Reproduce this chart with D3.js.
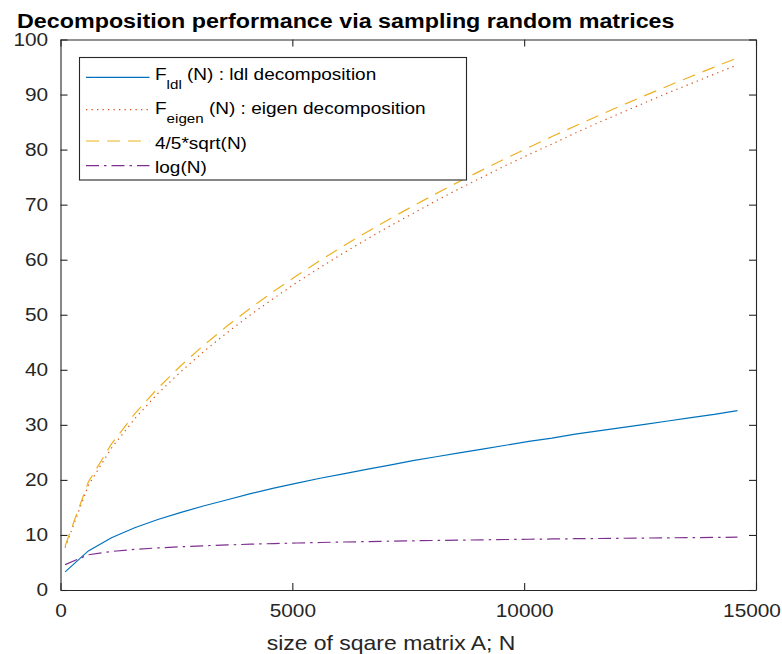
<!DOCTYPE html>
<html>
<head>
<meta charset="utf-8">
<script src="https://cdn.jsdelivr.net/npm/d3@7"></script>
<style>
  body { margin: 0; background: #fff; }
  text { font-family: "Liberation Sans", Arial, Helvetica, sans-serif; }
</style>
</head>
<body>
<div class="chart"></div>
<script>
// matrix sizes sampled
const sizeN = [100, 600, 1100, 1600, 2100, 2600, 3100, 3600, 4100, 4600,
  5100, 5600, 6100, 6600, 7100, 7600, 8100, 8600, 9100, 9600,
  10100, 10600, 11100, 11600, 12100, 12600, 13100, 13600, 14100, 14600];

const fLdl = [3.3, 7.1, 9.5, 11.3, 12.8, 14.1, 15.3, 16.4, 17.5, 18.5,
  19.4, 20.3, 21.1, 21.9, 22.7, 23.5, 24.2, 24.9, 25.6, 26.3,
  27.0, 27.6, 28.3, 28.9, 29.5, 30.1, 30.7, 31.3, 31.9, 32.6];

const fEigen = [7.7, 19.0, 25.8, 31.1, 35.7, 39.7, 43.4, 46.8, 50.0, 53.0,
  55.9, 58.6, 61.2, 63.7, 66.1, 68.4, 70.7, 72.9, 75.0, 77.1,
  79.1, 81.0, 83.0, 84.9, 86.7, 88.5, 90.3, 92.0, 93.7, 95.4];

const sqrtRef = [8.0, 19.6, 26.53, 32.0, 36.66, 40.79, 44.54, 48.0, 51.22, 54.26,
  57.13, 59.87, 62.48, 64.99, 67.41, 69.74, 72.0, 74.19, 76.32, 78.38,
  80.4, 82.37, 84.29, 86.16, 88.0, 89.8, 91.56, 93.29, 94.99, 96.67];

const logRef = [4.605, 6.397, 7.003, 7.378, 7.65, 7.863, 8.039, 8.189, 8.319, 8.434,
  8.537, 8.631, 8.716, 8.795, 8.868, 8.936, 8.999, 9.059, 9.116, 9.17,
  9.22, 9.269, 9.315, 9.359, 9.401, 9.441, 9.48, 9.518, 9.554, 9.589];

const xTicks = [0, 5000, 10000, 15000];
const yTicks = [0, 10, 20, 30, 40, 50, 60, 70, 80, 90, 100];

const legendMain = ['F', 'F', '4/5*sqrt(N)', 'log(N)'];
const legendSub = ['ldl', 'eigen', '', ''];
const legendTail = [' (N) : ldl decomposition', ' (N) : eigen decomposition', '', ''];

const width = 782;
const height = 654;
const sx = 1.12; // text is a bit wide in the original
const axisColor = '#262626';

const svg = d3.select('.chart')
  .append('svg')
  .attr('width', width)
  .attr('height', height);

svg.append('rect').attr('width', width).attr('height', height).attr('fill', '#fff');

const x = d3.scaleLinear().domain([0, 15000]).range([60.5, 756]);
const y = d3.scaleLinear().domain([0, 100]).range([590, 39.5]);

const series = [
  { values: fLdl, color: '#0072BD', dash: null },
  { values: fEigen, color: '#D95319', dash: '1.3,4.2' },
  { values: sqrtRef, color: '#EDB120', dash: '13,8' },
  { values: logRef, color: '#7E2F8E', dash: '13,5,2.5,5' }
];

//axes
function styleAxis(g) {
  g.select('.domain').attr('stroke', axisColor).attr('stroke-width', 1.1).attr('fill', 'none');
  g.selectAll('.tick line').attr('stroke', axisColor).attr('stroke-width', 1.1);
  g.selectAll('.tick text')
    .attr('fill', axisColor)
    .attr('font-size', '18.6px')
    .attr('transform', `scale(${sx},1)`);
}

const xAxis = svg.append('g')
  .attr('transform', `translate(0,${y(0)})`)
  .call(d3.axisBottom(x).tickValues(xTicks).tickSizeInner(-7).tickSizeOuter(0).tickPadding(14).tickFormat(d3.format('d')))
  .call(styleAxis);

// last label pulled in a little so it stays in the window
xAxis.selectAll('.tick text')
  .filter(d => d === 15000)
  .attr('x', -4.5 / sx);

svg.append('g')
  .attr('transform', `translate(0,${y(100)})`)
  .call(d3.axisTop(x).tickValues(xTicks).tickSizeInner(-7).tickSizeOuter(0).tickFormat(''))
  .call(styleAxis);

svg.append('g')
  .attr('transform', `translate(${x(0)},0)`)
  .call(d3.axisLeft(y).tickValues(yTicks).tickSizeInner(-7).tickSizeOuter(0).tickPadding(11))
  .call(styleAxis);

svg.append('g')
  .attr('transform', `translate(${x(15000)},0)`)
  .call(d3.axisRight(y).tickValues(yTicks).tickSizeInner(-7).tickSizeOuter(0).tickFormat(''))
  .call(styleAxis);

//lines
const line = d3.line()
  .x((d, i) => x(sizeN[i]))
  .y(d => y(d));

svg.selectAll('.series')
  .data(series)
  .enter()
  .append('path')
  .attr('class', 'series')
  .attr('d', d => line(d.values))
  .attr('fill', 'none')
  .attr('stroke', d => d.color)
  .attr('stroke-width', 1.2)
  .attr('stroke-dasharray', d => d.dash);

//title and label
svg.append('text')
  .attr('transform', `translate(17,28) scale(${sx},1)`)
  .attr('font-size', '20.8px')
  .attr('font-weight', 'bold')
  .attr('fill', '#000')
  .text('Decomposition performance via sampling random matrices');

svg.append('text')
  .attr('transform', `translate(391,650) scale(${sx},1)`)
  .attr('text-anchor', 'middle')
  .attr('font-size', '20.5px')
  .attr('fill', axisColor)
  .text('size of sqare matrix A; N');

//legend
const rowLine = [77.3, 109.7, 141, 165.7];
const rowText = [80, 113.8, 149, 172.8];

svg.append('rect')
  .attr('x', 79.5)
  .attr('y', 57.5)
  .attr('width', 387)
  .attr('height', 122.5)
  .attr('fill', '#fff')
  .attr('stroke', axisColor)
  .attr('stroke-width', 1.1);

const legend = svg.selectAll('.legend')
  .data(series)
  .enter().append('g')
  .attr('class', 'legend');

legend.append('line')
  .attr('x1', 86)
  .attr('x2', 149.5)
  .attr('y1', (d, i) => rowLine[i])
  .attr('y2', (d, i) => rowLine[i])
  .attr('stroke', d => d.color)
  .attr('stroke-width', 1.2)
  .attr('stroke-dasharray', d => d.dash);

const ltext = legend.append('text')
  .attr('transform', (d, i) => `translate(155,${rowText[i]}) scale(${sx},1)`)
  .attr('font-size', '17px')
  .attr('fill', '#000');

ltext.append('tspan').text((d, i) => legendMain[i]);
ltext.append('tspan')
  .attr('font-size', '13.5px')
  .attr('dy', (d, i) => legendSub[i] ? 9 : 0)
  .text((d, i) => legendSub[i]);
ltext.append('tspan')
  .attr('dy', (d, i) => legendSub[i] ? -9 : 0)
  .style('white-space', 'pre')
  .text((d, i) => legendTail[i]);
</script>
</body>
</html>
